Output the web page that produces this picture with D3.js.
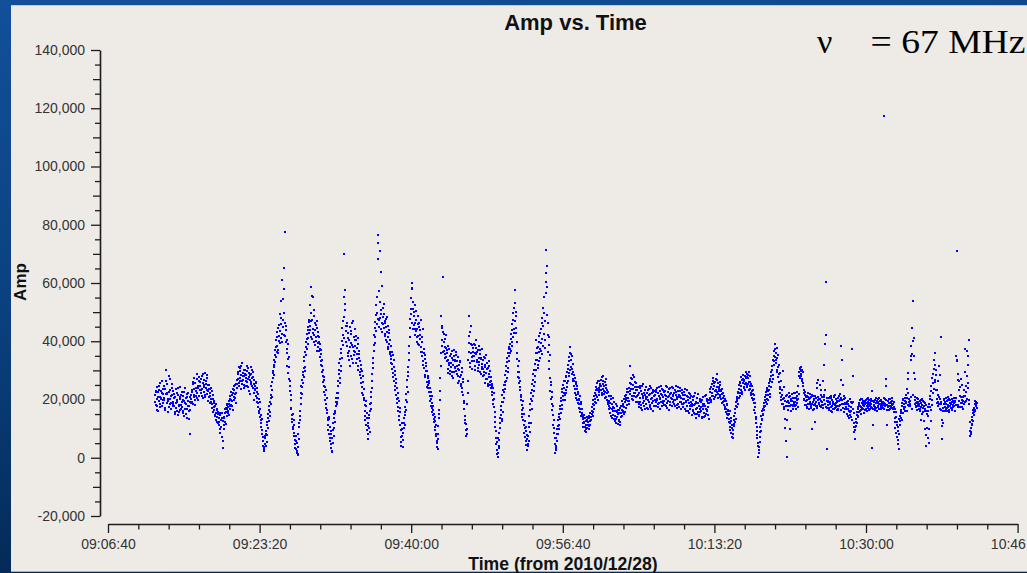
<!DOCTYPE html>
<html>
<head>
<meta charset="utf-8">
<script src="https://cdn.jsdelivr.net/npm/d3@7"></script>
<style>
  html, body { margin: 0; padding: 0; background: #0b3f80; }
  svg { display: block; }
</style>
</head>
<body>
<svg id="chart" width="1027" height="573"></svg>
<script>
// ---- data -------------------------------------------------------------
const sessionDate = "2010-12-28";
const firstSample = "09:11:50";   // time of the first amplitude sample
const streamStepSec = 4;          // spacing inside each stream
const streamBOffsetSec = 2;       // stream B sits halfway between stream A samples
const ampUnit = 1000;             // amplitude values are in thousands

// stream A amplitudes (x1000), one row per minute
const ampStreamA = [
  21.5, 18.2, 23.0, 20.1, 16.4, 22.7, 19.5, 24.8, 21.0, 17.3, 20.6, 26.2, 22.4, 18.9, 21.8,
  19.7, 23.5, 17.1, 30.2, 21.9, 25.4, 15.8, 20.3, 22.6, 18.4, 27.1, 21.2, 16.9, 24.0, 19.2,
  22.8, 17.6, 20.4, 14.9, 18.8, 23.6, 16.2, 19.9, 21.5, 15.7, 18.1, 24.3, 20.7, 16.8, 19.3,
  17.4, 21.2, 15.3, 19.6, 23.9, 16.7, 18.5, 13.8, 20.9, 17.9, 22.4, 15.9, 19.1, 8.2, 18.7,
  20.1, 23.4, 18.6, 25.2, 21.7, 27.3, 19.8, 24.1, 22.9, 28.6, 20.5, 23.8, 26.4, 21.3, 24.7,
  25.9, 22.2, 28.1, 23.7, 20.4, 26.8, 24.3, 29.1, 21.6, 25.4, 23.1, 27.5, 22.8, 19.6, 24.9,
  22.4, 18.7, 24.1, 20.3, 17.2, 21.6, 15.8, 19.4, 16.5, 14.2, 18.3, 13.1, 16.9, 12.4, 15.1,
  13.6, 11.2, 15.4, 9.7, 12.9, 7.1, 13.6, 3.2, 11.4, 14.0, 12.3, 16.8, 15.7, 18.1, 16.9,
  17.4, 15.2, 19.6, 16.8, 21.3, 18.1, 22.7, 19.4, 16.3, 23.5, 20.8, 24.6, 21.9, 18.7, 25.3,
  26.8, 24.1, 28.9, 31.2, 25.6, 27.4, 29.8, 23.7, 26.2, 32.4, 28.1, 25.1, 27.9, 30.3, 24.5,
  28.4, 25.9, 31.6, 27.1, 24.3, 29.2, 26.7, 21.8, 28.8, 26.0, 30.1, 23.9, 27.6, 19.8, 25.2,
  24.6, 21.3, 25.8, 19.2, 22.5, 17.4, 20.1, 15.3, 16.8, 12.9, 10.6, 13.4, 8.2, 5.9, 3.1,
  2.4, 4.8, 6.7, 9.3, 5.5, 11.2, 13.8, 10.1, 16.4, 19.2, 15.6, 21.7, 24.8, 20.9, 27.3,
  29.8, 33.6, 31.2, 36.9, 40.4, 34.7, 38.5, 43.2, 37.1, 41.8, 45.6, 39.3, 47.9, 53.8, 42.6,
  61.2, 44.8, 65.3, 49.7, 77.6, 41.9, 45.3, 36.1, 40.4, 33.8, 29.2, 34.7, 22.9, 26.4, 17.1,
  16.6, 13.2, 15.1, 9.8, 7.4, 11.3, 4.6, 2.9, 5.8, 1.6, 3.7, 0.9, 6.4, 10.5, 14.2,
  18.4, 22.1, 26.7, 24.3, 29.5, 27.8, 33.2, 36.4, 31.1, 39.8, 42.6, 37.3, 44.9, 41.2, 47.3,
  52.4, 43.7, 46.9, 58.6, 40.8, 55.3, 44.1, 48.5, 42.2, 38.6, 45.7, 41.5, 36.8, 43.3, 39.4,
  41.4, 36.8, 38.9, 33.2, 35.7, 29.4, 31.6, 26.1, 27.8, 22.5, 24.3, 19.8, 17.2, 20.6, 15.4,
  12.9, 9.6, 14.1, 6.8, 10.7, 3.4, 8.1, 1.9, 5.2, 11.8, 7.6, 14.9, 12.3, 17.6, 20.4,
  19.2, 24.8, 22.1, 28.6, 32.4, 27.3, 36.1, 31.5, 40.2, 44.7, 38.6, 48.3, 69.8, 52.9, 57.6,
  43.6, 38.2, 46.3, 34.9, 41.1, 36.7, 44.8, 31.6, 39.4, 42.5, 33.8, 37.9, 47.1, 35.2, 40.6,
  38.4, 32.7, 41.9, 35.6, 30.2, 39.1, 34.3, 36.8, 28.4, 31.9, 25.6, 29.7, 22.3, 26.1, 19.8,
  20.6, 16.2, 12.8, 17.9, 9.4, 13.5, 6.3, 10.8, 14.6, 8.9, 18.3, 22.6, 16.7, 26.4, 30.8,
  34.2, 38.7, 44.5, 41.3, 48.9, 52.6, 45.8, 76.6, 73.9, 57.2, 47.4, 71.1, 50.8, 63.8, 46.2,
  59.1, 48.3, 44.6, 52.7, 46.1, 41.8, 47.5, 43.2, 39.7, 45.4, 38.1, 42.9, 36.4, 40.6, 34.8,
  33.9, 30.4, 35.2, 27.6, 31.1, 24.8, 28.3, 21.5, 25.7, 18.9, 22.4, 16.1, 19.4, 12.8, 15.7,
  9.6, 4.1, 7.3, 11.8, 6.2, 13.5, 10.2, 17.4, 14.6, 21.9, 19.1, 26.8, 31.3, 28.2, 35.9,
  41.4, 47.6, 51.2, 57.8, 60.1, 44.3, 53.6, 48.7, 42.1, 46.2, 50.4, 43.5, 39.8, 45.9, 41.7,
  44.8, 38.6, 42.1, 36.4, 47.2, 34.9, 39.7, 33.1, 37.5, 30.8, 35.2, 28.4, 32.6, 26.1, 29.9,
  27.3, 23.8, 25.6, 21.2, 19.4, 22.7, 17.1, 18.9, 14.6, 16.3, 12.2, 13.9, 9.5, 11.1, 7.4,
  5.2, 2.9, 8.1, 13.6, 16.4, 22.8, 48.7, 31.5, 44.6, 38.2, 61.9, 42.4, 36.7, 40.9, 34.3,
  37.6, 33.1, 35.9, 30.4, 38.2, 32.7, 28.6, 34.8, 31.2, 36.5, 29.3, 33.7, 27.4, 35.1, 30.7,
  33.4, 29.8, 36.2, 31.5, 27.9, 34.6, 30.1, 26.3, 32.8, 28.5, 24.7, 30.9, 22.6, 27.2, 19.5,
  16.8, 11.9, 14.5, 7.4, 9.8, 18.6, 26.3, 48.6, 36.2, 43.1, 32.4, 39.1, 34.7, 30.6, 37.8,
  36.4, 33.2, 38.7, 31.4, 35.5, 40.3, 32.9, 37.1, 29.8, 34.4, 31.7, 36.9, 28.6, 33.8, 30.5,
  32.3, 27.9, 34.6, 29.5, 25.8, 31.1, 35.2, 27.0, 30.4, 24.6, 28.8, 33.3, 26.1, 29.7, 23.9,
  25.2, 21.4, 23.8, 18.6, 20.3, 15.7, 12.4, 9.1, 4.8, 1.2, 6.7, 0.3, 3.5, 8.6, 12.1,
  14.8, 17.9, 13.2, 21.6, 19.3, 25.1, 22.7, 28.4, 24.9, 31.6, 27.3, 34.2, 30.8, 37.5, 35.1,
  39.2, 35.8, 42.6, 38.4, 45.9, 41.3, 49.7, 44.2, 53.1, 57.6, 48.5, 42.8, 36.1, 31.4, 27.6,
  29.3, 25.7, 23.1, 19.8, 21.4, 16.5, 13.9, 17.2, 11.3, 8.4, 12.7, 5.6, 9.1, 2.8, 6.3,
  4.7, 10.4, 14.2, 8.9, 18.6, 22.3, 16.7, 25.4, 21.1, 28.7, 24.6, 32.3, 27.9, 35.8, 40.4,
  33.6, 38.1, 30.9, 36.4, 41.7, 34.2, 44.3, 39.5, 48.1, 35.7, 51.4, 42.6, 55.2, 37.8, 60.3,
  71.2, 58.6, 65.8, 46.3, 38.7, 33.1, 27.4, 22.8, 25.9, 18.3, 20.7, 14.6, 11.2, 8.4, 4.6,
  1.8, 6.9, 3.4, 9.7, 12.8, 8.2, 14.9, 11.3, 17.6, 15.2, 20.4, 18.1, 23.6, 21.3, 26.5,
  24.1, 19.8, 27.6, 22.4, 29.3, 25.7, 31.8, 27.9, 34.6, 30.2, 37.9, 33.5, 28.7, 35.1, 26.4,
  29.6, 24.8, 27.3, 22.1, 25.4, 20.6, 23.7, 18.9, 21.8, 17.2, 19.7, 15.8, 18.4, 14.3, 16.9,
  13.2, 10.6, 14.8, 11.9, 9.3, 12.7, 8.8, 14.1, 10.2, 12.4, 9.7, 13.6, 11.1, 15.2, 12.8,
  14.9, 17.3, 15.6, 19.8, 18.2, 22.4, 20.1, 24.3, 21.7, 25.8, 23.2, 19.9, 26.4, 22.6, 24.8,
  23.1, 26.7, 21.4, 25.2, 28.1, 22.9, 24.5, 20.6, 27.2, 23.8, 19.7, 22.3, 18.4, 21.1, 17.6,
  18.9, 15.3, 20.2, 16.7, 13.8, 17.4, 14.6, 19.1, 15.9, 12.7, 16.2, 13.4, 17.8, 11.6, 14.9,
  13.1, 16.5, 11.4, 15.2, 17.9, 14.3, 18.6, 16.1, 20.3, 17.4, 15.6, 19.8, 21.5, 18.2, 22.7,
  20.4, 24.1, 18.6, 22.8, 31.4, 25.3, 21.2, 26.9, 23.5, 19.8, 27.6, 24.2, 22.1, 25.7, 20.9,
  23.4, 19.2, 21.7, 17.3, 24.6, 20.5, 18.1, 22.9, 16.4, 21.3, 25.2, 19.6, 17.8, 23.1, 20.2,
  18.6, 22.4, 20.9, 16.8, 23.7, 19.3, 21.8, 17.5, 24.1, 20.4, 18.9, 22.6, 16.2, 21.2, 19.7,
  21.5, 17.9, 23.2, 19.8, 22.1, 18.3, 24.4, 20.6, 16.9, 21.9, 19.2, 23.6, 18.7, 20.8, 22.7,
  19.4, 22.8, 17.6, 21.3, 24.2, 18.8, 20.7, 23.5, 16.5, 21.9, 19.1, 22.4, 17.9, 20.3, 23.8,
  21.2, 18.4, 23.1, 19.7, 22.6, 17.2, 20.9, 24.3, 18.6, 21.7, 19.3, 22.8, 16.8, 20.5, 23.4,
  20.1, 17.3, 22.5, 18.8, 21.4, 16.2, 19.6, 23.1, 17.8, 20.7, 15.4, 18.9, 21.8, 16.7, 19.3,
  17.6, 14.8, 19.9, 16.3, 21.2, 15.1, 18.4, 13.6, 17.2, 20.5, 15.8, 18.9, 14.2, 16.9, 19.4,
  16.2, 19.1, 13.8, 17.7, 20.8, 15.4, 18.3, 14.5, 21.6, 16.8, 19.5, 15.9, 17.4, 13.2, 18.8,
  20.4, 23.6, 19.8, 25.2, 22.1, 27.4, 21.3, 24.8, 20.7, 26.1, 23.3, 28.6, 22.5, 25.7, 21.9,
  24.2, 21.6, 25.9, 22.8, 20.3, 23.7, 19.2, 22.4, 18.1, 21.1, 17.4, 19.6, 15.8, 18.3, 14.9,
  16.4, 13.2, 15.1, 11.8, 9.4, 12.6, 7.2, 10.3, 8.1, 11.5, 14.3, 12.2, 16.8, 19.1, 17.5,
  20.8, 18.4, 22.7, 24.9, 21.3, 26.1, 23.4, 27.8, 22.6, 25.5, 28.4, 24.1, 26.7, 23.2, 29.3,
  25.8, 28.9, 24.2, 27.3, 26.1, 29.6, 23.5, 25.9, 22.1, 24.7, 20.6, 23.2, 18.9, 21.4, 17.3,
  15.4, 12.1, 9.3, 6.8, 3.9, 0.4, 2.7, 5.5, 8.9, 11.6, 14.2, 12.8, 16.6, 15.1, 18.9,
  17.4, 20.8, 19.2, 22.6, 18.6, 24.1, 21.5, 25.8, 23.3, 27.2, 20.7, 29.4, 26.1, 31.6, 28.3,
  33.2, 36.8, 34.5, 38.9, 32.7, 37.8, 30.1, 35.4, 27.6, 31.8, 24.3, 22.1, 26.5, 19.8, 21.6,
  18.4, 29.7, 20.6, 16.9, 13.3, 21.2, 5.7, 19.1, 0.3, 17.6, 22.4, 18.8, 9.9, 20.3, 16.1,
  19.6, 21.8, 17.9, 20.5, 18.4, 22.3, 19.1, 16.8, 21.2, 18.7, 20.1, 24.6, 29.3, 27.4, 30.8,
  28.1, 31.2, 26.3, 29.6, 24.8, 22.1, 19.7, 21.6, 18.2, 20.9, 17.4, 19.8, 22.4, 18.6, 20.3,
  19.2, 17.6, 20.8, 18.3, 9.8, 21.1, 16.9, 19.7, 12.4, 18.5, 20.4, 25.6, 17.2, 26.8, 19.9,
  18.7, 24.9, 20.2, 17.4, 21.6, 19.1, 26.3, 18.2, 20.7, 31.7, 39.2, 60.3, 42.3, 19.4, 2.9,
  18.1, 20.6, 16.4, 19.2, 21.3, 17.5, 15.8, 19.9, 18.6, 20.8, 16.9, 18.2, 21.7, 17.3, 19.6,
  17.8, 20.4, 16.3, 19.5, 21.8, 18.1, 26.7, 38.3, 33.7, 24.9, 17.2, 20.1, 15.6, 18.9, 16.8,
  18.4, 15.1, 19.6, 16.7, 13.8, 17.9, 14.6, 19.2, 16.1, 12.9, 37.5, 28.0, 15.3, 10.6, 6.3,
  9.4, 13.2, 15.7, 12.1, 17.3, 14.5, 18.8, 16.2, 19.7, 17.4, 15.1, 20.3, 18.1, 16.6, 19.2,
  17.6, 19.4, 16.8, 18.9, 20.2, 17.1, 18.5, 19.8, 16.4, 18.1, 19.5, 17.3, 22.9, 3.5, 11.4,
  18.2, 16.9, 19.7, 17.5, 20.4, 18.8, 15.9, 19.1, 17.8, 20.6, 16.7, 18.4, 19.9, 17.2, 18.6,
  19.3, 17.1, 18.8, 117.3, 20.2, 26.9, 24.6, 11.4, 17.9, 19.6, 16.5, 18.7, 20.1, 17.6, 19.2,
  18.1, 20.4, 16.9, 19.2, 17.4, 13.6, 10.2, 15.8, 7.1, 12.4, 4.6, 9.3, 2.9, 14.2, 11.1,
  13.8, 16.5, 18.9, 15.4, 20.1, 17.3, 19.6, 16.2, 21.4, 18.7, 23.5, 29.2, 26.9, 17.9, 20.3,
  19.5, 33.7, 38.3, 44.5, 35.5, 53.8, 41.2, 29.0, 27.1, 20.8, 17.6, 19.2, 16.4, 18.5, 20.1,
  17.8, 19.4, 16.2, 18.7, 13.1, 20.3, 17.2, 15.6, 19.1, 9.7, 16.8, 18.2, 4.1, 14.9, 17.5,
  6.7, 18.6, 9.9, 21.3, 16.4, 24.8, 19.7, 27.5, 22.1, 30.6, 33.4, 25.9, 36.1, 28.4, 20.2,
  23.4, 19.1, 17.6, 31.5, 20.3, 16.9, 41.6, 18.4, 6.3, 12.0, 17.2, 19.8, 15.9, 18.6, 20.5,
  18.3, 16.1, 19.7, 17.4, 20.2, 15.6, 18.9, 21.4, 17.1, 19.3, 16.5, 18.2, 20.6, 17.8, 19.1,
  19.6, 34.9, 71.0, 33.7, 28.6, 18.2, 26.4, 24.3, 17.5, 20.8, 25.1, 18.9, 16.7, 19.4, 21.2,
  37.5, 21.3, 19.4, 22.6, 28.1, 34.9, 25.8, 40.6, 19.9, 7.4, 10.2, 8.9, 13.1, 11.6, 15.2,
  17.2, 14.6, 19.4, 16.1, 18.3, 17.0
];

// stream B amplitudes (x1000), one row per minute, 2 s after stream A
const ampStreamB = [
  19.1, 22.6, 17.8, 24.3, 20.7, 15.9, 23.1, 18.5, 25.6, 20.2, 22.9, 17.6, 19.8, 23.7, 20.4,
  24.6, 16.3, 21.8, 26.4, 18.9, 22.3, 19.6, 28.1, 17.4, 23.2, 20.1, 18.7, 25.3, 21.4, 17.9,
  18.3, 21.9, 15.6, 20.8, 17.2, 22.4, 19.1, 14.6, 23.8, 17.7, 20.3, 16.4, 21.6, 18.2, 22.7,
  19.8, 16.2, 22.7, 14.4, 18.9, 20.6, 15.1, 21.8, 16.6, 19.4, 13.2, 17.8, 20.9, 16.4, 21.5,
  22.5, 19.3, 26.1, 20.8, 23.6, 18.1, 25.5, 21.2, 26.9, 22.4, 24.8, 19.7, 27.8, 23.1, 25.9,
  23.4, 27.1, 21.3, 25.6, 28.7, 22.7, 24.9, 20.8, 26.3, 23.9, 28.4, 21.9, 25.1, 23.6, 20.9,
  21.1, 23.5, 19.2, 22.8, 18.6, 20.1, 17.3, 18.9, 14.8, 17.7, 15.2, 16.4, 14.1, 15.8, 11.9,
  12.4, 14.7, 8.6, 13.1, 10.4, 15.2, 5.8, 12.7, 9.9, 13.8, 15.4, 11.6, 17.2, 14.3, 18.4,
  16.2, 18.5, 14.7, 20.1, 17.6, 19.9, 21.4, 17.8, 22.2, 19.7, 23.1, 20.5, 24.9, 22.3, 23.8,
  25.4, 29.6, 27.2, 24.8, 30.7, 26.4, 28.3, 31.5, 25.2, 29.1, 26.7, 30.2, 23.8, 28.6, 27.3,
  26.3, 29.8, 24.6, 30.9, 27.8, 22.9, 28.4, 25.3, 31.2, 27.4, 24.7, 29.3, 22.4, 26.8, 23.6,
  23.2, 26.1, 20.4, 23.9, 18.7, 21.8, 16.2, 19.3, 14.1, 11.8, 14.7, 9.6, 7.1, 4.2, 2.6,
  3.6, 7.4, 4.1, 8.2, 12.3, 7.9, 14.9, 12.6, 17.8, 14.3, 20.4, 18.6, 23.1, 25.9, 29.2,
  31.7, 28.5, 35.2, 32.9, 38.1, 36.3, 41.6, 35.8, 44.7, 40.1, 43.4, 49.2, 41.1, 45.8, 39.6,
  54.6, 47.3, 42.2, 58.1, 46.4, 39.6, 43.8, 37.4, 31.6, 38.9, 27.1, 31.3, 24.6, 19.8, 21.7,
  12.3, 14.6, 10.7, 8.5, 12.9, 6.1, 3.4, 7.3, 2.2, 4.9, 1.4, 8.1, 11.8, 16.2, 13.1,
  20.6, 24.7, 21.9, 28.3, 25.6, 30.9, 34.7, 29.7, 38.1, 35.4, 40.9, 43.8, 39.1, 46.5, 42.8,
  45.2, 49.6, 41.3, 55.7, 47.2, 42.9, 50.8, 39.9, 46.4, 43.9, 40.2, 47.1, 44.6, 38.1, 41.8,
  39.6, 37.5, 34.6, 36.9, 31.8, 33.4, 28.2, 30.1, 24.8, 26.7, 21.4, 23.1, 18.4, 16.3, 13.7,
  11.4, 13.2, 8.3, 5.7, 9.2, 4.6, 2.3, 6.9, 9.4, 13.5, 10.1, 16.2, 15.4, 19.1, 18.3,
  22.4, 20.6, 26.3, 30.1, 25.7, 33.9, 29.8, 37.4, 34.1, 42.3, 46.8, 41.1, 55.3, 50.7, 45.2,
  39.8, 45.2, 36.1, 42.7, 33.4, 40.3, 37.9, 43.4, 35.1, 46.1, 38.7, 32.4, 41.6, 36.6, 44.1,
  36.2, 40.6, 33.9, 37.7, 41.2, 31.6, 35.7, 29.3, 33.1, 27.4, 30.6, 24.2, 27.9, 21.5, 23.7,
  18.1, 14.3, 19.6, 11.2, 15.4, 8.1, 11.9, 13.7, 10.3, 16.2, 20.7, 18.9, 24.1, 28.6, 32.5,
  36.8, 42.1, 39.4, 46.7, 43.6, 49.8, 55.1, 47.6, 68.2, 44.9, 53.4, 48.1, 44.2, 49.5, 43.1,
  51.4, 45.8, 49.2, 42.4, 46.9, 44.8, 40.5, 48.4, 41.4, 37.2, 43.7, 39.1, 35.5, 38.2, 32.6,
  36.3, 32.2, 29.1, 33.6, 26.4, 29.7, 23.3, 26.9, 20.1, 23.8, 17.5, 20.6, 14.4, 17.2, 11.1,
  7.2, 5.4, 9.8, 3.8, 8.4, 12.1, 15.8, 11.4, 19.7, 16.3, 24.2, 22.6, 29.4, 33.7, 38.2,
  44.7, 49.3, 54.8, 46.2, 58.4, 51.1, 45.7, 49.9, 44.2, 52.3, 47.4, 41.3, 44.1, 48.6, 38.9,
  46.3, 40.9, 43.7, 38.1, 41.6, 36.2, 44.1, 31.7, 36.1, 33.9, 27.6, 31.4, 29.8, 24.3, 28.1,
  25.1, 26.4, 22.6, 24.1, 20.3, 17.9, 21.1, 15.6, 17.8, 13.3, 15.1, 10.4, 12.6, 8.3, 5.9,
  3.8, 6.6, 10.9, 14.9, 19.7, 27.3, 35.8, 45.1, 40.3, 36.4, 43.2, 39.8, 38.1, 35.6, 42.1,
  34.6, 36.9, 29.1, 33.4, 31.8, 37.2, 29.9, 32.4, 35.6, 28.1, 34.2, 31.9, 37.1, 29.6, 33.2,
  31.2, 35.3, 28.7, 33.1, 30.6, 25.8, 31.9, 27.7, 33.3, 25.4, 29.4, 23.8, 26.1, 21.4, 18.7,
  14.2, 13.1, 9.6, 11.5, 8.2, 22.4, 33.6, 41.9, 39.3, 31.2, 45.1, 36.1, 33.3, 38.6, 35.1,
  34.8, 39.1, 35.9, 30.3, 37.8, 33.6, 36.2, 30.9, 38.4, 32.8, 35.7, 29.4, 34.1, 37.3, 31.2,
  30.6, 33.7, 28.4, 31.9, 34.1, 26.9, 29.1, 32.6, 25.4, 30.9, 27.6, 31.4, 24.9, 27.8, 26.2,
  22.7, 24.6, 19.9, 22.1, 17.3, 14.1, 10.6, 6.9, 2.6, 5.4, 1.8, 4.1, 6.2, 10.3, 13.8,
  16.4, 12.6, 19.1, 15.8, 23.3, 20.6, 26.1, 23.7, 29.8, 26.2, 32.9, 29.4, 35.9, 33.3, 38.1,
  37.3, 40.8, 36.7, 43.9, 39.8, 47.3, 42.9, 51.4, 46.8, 50.2, 44.6, 39.7, 33.8, 29.5, 33.2,
  27.4, 24.2, 26.3, 20.7, 18.2, 15.1, 19.4, 12.8, 14.9, 10.1, 7.2, 10.6, 4.3, 7.8, 3.9,
  7.3, 5.9, 12.1, 16.4, 11.8, 20.3, 19.4, 23.2, 26.6, 22.9, 30.3, 26.1, 33.7, 30.2, 37.6,
  35.9, 31.7, 39.8, 33.1, 37.5, 42.9, 36.6, 46.3, 40.7, 38.2, 45.1, 49.6, 40.3, 46.8, 56.4,
  63.4, 48.9, 42.1, 36.2, 41.4, 30.6, 35.2, 24.9, 20.2, 22.6, 16.4, 17.9, 13.1, 10.3, 6.7,
  3.9, 2.6, 8.1, 5.7, 10.9, 14.1, 9.8, 16.8, 13.3, 19.6, 16.9, 22.7, 19.8, 25.1, 22.4,
  21.6, 26.3, 23.4, 28.1, 24.2, 30.4, 26.3, 33.2, 29.1, 36.1, 31.3, 35.6, 30.4, 27.1, 32.3,
  26.2, 28.4, 23.6, 26.1, 21.5, 24.6, 19.8, 22.7, 20.3, 18.6, 21.1, 16.9, 19.3, 15.5, 14.8,
  11.8, 14.1, 12.3, 10.4, 13.7, 11.4, 9.9, 12.9, 13.6, 11.2, 14.4, 10.8, 12.6, 14.1, 13.9,
  16.2, 14.4, 18.4, 16.9, 21.2, 19.3, 23.1, 18.8, 23.7, 20.9, 26.3, 24.1, 21.4, 25.3, 23.3,
  24.7, 22.1, 27.6, 23.6, 26.4, 21.8, 25.9, 22.7, 24.9, 20.9, 23.4, 19.1, 22.6, 16.9, 19.5,
  17.1, 21.1, 14.4, 18.4, 15.9, 20.4, 13.3, 17.2, 14.3, 18.6, 11.9, 15.6, 13.9, 16.4, 12.5,
  15.4, 12.2, 17.1, 13.9, 16.3, 19.4, 15.7, 17.8, 14.9, 19.1, 21.2, 17.1, 20.6, 23.6, 19.4,
  22.6, 19.6, 25.6, 21.9, 27.4, 23.7, 20.1, 25.1, 28.3, 22.4, 21.1, 25.9, 23.3, 19.3, 24.4,
  21.1, 24.3, 18.6, 22.4, 19.3, 23.8, 17.1, 21.9, 24.8, 18.9, 20.4, 22.1, 16.7, 21.6, 24.3,
  20.7, 17.2, 23.1, 19.9, 21.6, 18.1, 24.7, 20.2, 16.6, 22.3, 19.6, 23.4, 21.1, 17.8, 22.9,
  19.1, 22.6, 20.3, 24.1, 17.4, 21.3, 18.9, 22.8, 20.1, 24.6, 17.6, 21.4, 19.5, 23.3, 18.2,
  21.7, 18.2, 24.8, 20.1, 17.1, 22.7, 19.6, 21.2, 23.9, 18.1, 22.2, 20.6, 24.4, 19.2, 21.4,
  22.3, 19.9, 17.7, 21.5, 24.6, 20.3, 18.2, 22.9, 20.8, 17.4, 23.9, 21.1, 19.1, 22.1, 18.4,
  21.6, 18.4, 20.2, 16.9, 23.7, 19.1, 17.7, 21.3, 19.8, 15.9, 22.4, 17.6, 20.6, 18.1, 21.1,
  18.6, 16.1, 20.7, 15.4, 18.1, 22.1, 16.9, 19.3, 15.1, 18.7, 21.8, 14.7, 17.9, 20.1, 15.8,
  17.3, 14.1, 19.8, 16.6, 18.6, 13.9, 21.1, 17.6, 15.1, 20.1, 16.4, 18.8, 14.8, 19.7, 20.6,
  22.7, 19.3, 24.3, 21.1, 26.4, 23.6, 20.2, 25.8, 22.9, 27.2, 21.6, 24.2, 26.8, 20.4, 23.6,
  22.9, 25.1, 20.8, 23.4, 21.9, 18.7, 22.3, 20.6, 19.4, 16.9, 20.2, 16.6, 18.1, 13.8, 16.1,
  14.8, 12.3, 16.1, 10.6, 13.7, 8.6, 11.1, 6.8, 9.6, 13.1, 10.9, 15.2, 13.4, 17.6, 20.3,
  19.6, 22.1, 20.4, 23.6, 25.8, 22.2, 24.7, 26.7, 21.9, 27.1, 24.4, 26.2, 28.1, 25.3, 27.4,
  27.6, 24.9, 28.4, 25.2, 23.4, 27.9, 24.8, 21.7, 25.4, 22.9, 19.8, 21.9, 20.1, 16.4, 18.8,
  14.1, 13.2, 10.6, 7.9, 5.1, 1.6, 3.8, 7.2, 10.4, 9.1, 13.4, 16.1, 14.7, 17.7, 16.3,
  19.9, 17.9, 21.6, 20.1, 23.4, 19.7, 22.9, 24.6, 21.9, 26.3, 24.2, 28.1, 30.2, 27.1, 33.4,
  35.1, 31.9, 37.4, 33.6, 36.1, 29.4, 34.2, 31.3, 28.9, 26.1, 29.1, 23.5, 20.7, 23.1, 18.6,
  20.1, 17.3, 24.3, 19.6, 10.1, 17.8, 21.6, 13.1, 19.4, 16.4, 20.8, 17.9, 21.1, 18.1, 19.6,
  18.1, 20.4, 16.9, 22.1, 19.3, 17.6, 20.6, 18.1, 22.6, 19.8, 17.3, 21.9, 27.9, 30.4, 28.6,
  29.9, 27.1, 30.2, 25.6, 23.4, 20.3, 18.1, 22.7, 19.4, 17.2, 21.3, 18.3, 20.7, 16.9, 21.9,
  20.4, 18.6, 17.1, 21.6, 19.1, 16.3, 20.2, 18.1, 21.2, 17.6, 19.3, 17.9, 24.1, 20.8, 18.3,
  20.1, 17.6, 19.4, 23.4, 18.1, 20.9, 17.1, 19.8, 21.4, 23.4, 18.6, 17.4, 20.6, 17.2, 19.4,
  19.3, 17.1, 20.9, 18.4, 16.2, 20.4, 17.8, 19.1, 16.7, 21.1, 18.6, 17.1, 20.2, 18.8, 16.4,
  19.2, 16.9, 21.1, 17.6, 19.9, 16.4, 20.6, 18.4, 19.7, 17.1, 21.3, 18.4, 16.9, 20.4, 17.4,
  16.9, 19.2, 14.4, 18.3, 16.1, 20.2, 15.7, 17.4, 14.1, 18.8, 16.7, 19.3, 12.1, 8.9, 10.7,
  12.4, 10.8, 14.6, 16.8, 13.9, 18.1, 15.6, 17.9, 20.1, 16.3, 18.7, 17.2, 19.6, 15.4, 18.3,
  18.6, 16.4, 19.8, 17.9, 16.1, 19.1, 20.4, 17.6, 18.9, 16.9, 20.1, 18.3, 17.1, 19.4, 16.8,
  19.3, 17.8, 16.4, 18.9, 17.1, 19.6, 17.4, 20.1, 16.6, 18.3, 19.4, 17.6, 16.9, 19.1, 17.7,
  18.1, 20.4, 16.9, 18.4, 17.6, 19.8, 18.2, 16.4, 19.4, 17.3, 20.2, 17.9, 16.7, 18.9, 17.2,
  19.4, 17.1, 18.6, 15.6, 12.3, 16.8, 8.6, 13.9, 11.4, 6.1, 10.6, 13.2, 8.1, 12.6, 15.4,
  15.9, 12.9, 17.6, 19.8, 16.9, 18.4, 20.6, 17.4, 19.3, 16.1, 20.4, 18.1, 22.3, 19.1, 17.6,
  18.4, 20.9, 34.9, 16.9, 40.2, 21.6, 35.1, 18.4, 19.7, 17.3, 18.9, 20.6, 17.7, 19.1, 16.8,
  18.6, 16.8, 19.9, 17.4, 15.1, 18.1, 19.6, 12.6, 17.9, 16.2, 18.9, 7.9, 15.9, 10.3, 16.1,
  14.3, 4.9, 17.4, 20.1, 12.6, 22.9, 18.1, 25.6, 28.9, 23.7, 31.9, 26.8, 23.1, 30.1, 18.9,
  21.6, 26.3, 18.3, 20.9, 28.4, 16.4, 19.3, 13.1, 10.9, 16.2, 18.4, 20.1, 17.3, 19.2, 16.9,
  19.6, 17.2, 18.1, 20.8, 16.4, 19.9, 17.7, 18.6, 20.1, 16.8, 19.4, 17.3, 18.9, 16.1, 20.4,
  18.2, 20.6, 33.1, 17.3, 26.8, 19.6, 23.4, 21.1, 18.8, 27.2, 19.9, 17.4, 20.7, 23.1, 18.3,
  29.4, 19.1, 24.6, 20.3, 36.7, 23.9, 31.8, 18.6, 9.3, 12.4, 8.1, 11.2, 14.1, 12.6, 16.4,
  15.6, 18.4, 16.3, 19.1, 17.6, 18.8
];

const xTickTimes = ["09:06:40", "09:23:20", "09:40:00", "09:56:40", "10:13:20", "10:30:00", "10:46:40"];
const xMinorStepSec = 200;
const yTicks = [-20000, 0, 20000, 40000, 60000, 80000, 100000, 120000, 140000];
const yMinorStep = 5000;

const chartTitle = "Amp vs. Time";
const xTitle = "Time (from 2010/12/28)";
const yTitle = "Amp";
const freqSymbol = "\u03BD";
const freqText = "= 67 MHz";

// ---- layout -----------------------------------------------------------
const W = 1027, H = 573;
const plotLeft = 100, plotTop = 50, plotBottom = 516;
const xAxisY = 524, xLeft = 108, xRight = 1017.6;
const sansFont = "'Liberation Sans', Arial, Helvetica, sans-serif";

const parseT = s => new Date(`${sessionDate}T${s}Z`);
const t0 = parseT(firstSample).getTime();
const toPoints = (values, offsetSec) => values.map((v, i) => ({
  time: new Date(t0 + (offsetSec + i * streamStepSec) * 1000),
  amp: v * ampUnit
}));
const points = toPoints(ampStreamA, 0).concat(toPoints(ampStreamB, streamBOffsetSec));

const svg = d3.select("#chart");

// slide background
const defs = svg.append("defs");
const bg = defs.append("linearGradient").attr("id", "slideBg")
  .attr("x1", 0).attr("y1", 0).attr("x2", 0.25).attr("y2", 1);
bg.append("stop").attr("offset", "0%").attr("stop-color", "#13509a");
bg.append("stop").attr("offset", "55%").attr("stop-color", "#0a3f7c");
bg.append("stop").attr("offset", "100%").attr("stop-color", "#032852");
svg.append("rect").attr("width", W).attr("height", H).attr("fill", "url(#slideBg)");

// plot window
svg.append("rect")
  .attr("x", 11).attr("y", 5).attr("width", W - 11).attr("height", 566.7)
  .attr("fill", "#eeebe7");
svg.append("line")
  .attr("x1", 11).attr("x2", W).attr("y1", 5.5).attr("y2", 5.5)
  .attr("stroke", "#c9c9cc").attr("stroke-width", 1);

// scales
const x = d3.scaleUtc()
  .domain([parseT(xTickTimes[0]), parseT(xTickTimes[xTickTimes.length - 1])])
  .range([xLeft, xRight]);
const y = d3.scaleLinear()
  .domain([yTicks[0], yTicks[yTicks.length - 1]])
  .range([plotBottom, plotTop]);

const axisColor = "#1c1c1c";
const labelColor = "#333";
const fmtAmp = v => d3.format(",")(v).replace("\u2212", "-");

function styleAxis(g) {
  g.select(".domain").attr("stroke", axisColor).attr("stroke-width", 1.6);
  g.selectAll(".tick line").attr("stroke", axisColor).attr("stroke-width", 1.3);
  g.selectAll(".tick text")
    .attr("fill", labelColor)
    .style("font-family", sansFont)
    .style("font-size", "14px");
}

// y axis: majors, then minor ticks every 5,000
const yMinor = d3.range(yTicks[0], yTicks[yTicks.length - 1] + 1, yMinorStep)
  .filter(v => !yTicks.includes(v));
svg.append("g")
  .attr("transform", `translate(${plotLeft},0)`)
  .call(d3.axisLeft(y).tickValues(yMinor).tickSize(5).tickFormat(""))
  .call(g => g.select(".domain").remove())
  .call(g => g.selectAll(".tick line")
    .attr("x2", d => (d % 10000 === 0 ? -7 : -5))
    .attr("stroke", axisColor).attr("stroke-width", 1.3));
svg.append("g")
  .attr("transform", `translate(${plotLeft},0)`)
  .call(d3.axisLeft(y).tickValues(yTicks).tickSize(9).tickPadding(6)
    .tickSizeOuter(0).tickFormat(fmtAmp))
  .call(styleAxis);

// x axis: majors every 1000 s, minors every 200 s
const xMajor = xTickTimes.map(parseT);
const xMinor = d3.range(xMajor[0].getTime(), xMajor[xMajor.length - 1].getTime() + 1, xMinorStepSec * 1000)
  .map(ms => new Date(ms))
  .filter(d => !xMajor.some(m => m.getTime() === d.getTime()));
svg.append("g")
  .attr("transform", `translate(0,${xAxisY})`)
  .call(d3.axisBottom(x).tickValues(xMinor).tickSize(5.5).tickFormat(""))
  .call(g => g.select(".domain").remove())
  .call(g => g.selectAll(".tick line").attr("stroke", axisColor).attr("stroke-width", 1.3));
svg.append("g")
  .attr("transform", `translate(0,${xAxisY})`)
  .call(d3.axisBottom(x).tickValues(xMajor).tickSize(9).tickPadding(6)
    .tickSizeOuter(0).tickFormat(d3.utcFormat("%H:%M:%S")))
  .call(styleAxis);

// amplitude samples: small solid blue pixels
svg.append("g")
  .attr("shape-rendering", "crispEdges")
  .selectAll("rect")
  .data(points)
  .join("rect")
  .attr("x", d => x(d.time) - 1)
  .attr("y", d => y(d.amp) - 1)
  .attr("width", 2)
  .attr("height", 2)
  .attr("fill", "#0000ff");

// titles
svg.append("text")
  .attr("x", 575.5).attr("y", 30)
  .attr("text-anchor", "middle")
  .style("font-family", sansFont).style("font-size", "22px").style("font-weight", "bold")
  .attr("fill", "#111")
  .text(chartTitle);

svg.append("text")
  .attr("x", 563).attr("y", 569.5)
  .attr("text-anchor", "middle")
  .style("font-family", sansFont).style("font-size", "17.6px").style("font-weight", "bold")
  .attr("fill", "#111")
  .text(xTitle);

svg.append("text")
  .attr("transform", "translate(25.5,282) rotate(-90)")
  .attr("text-anchor", "middle")
  .style("font-family", sansFont).style("font-size", "17px").style("font-weight", "bold")
  .attr("fill", "#111")
  .text(yTitle);

// observing frequency note
const note = svg.append("text")
  .attr("y", 53.3)
  .style("font-family", "'Liberation Serif', 'Times New Roman', Times, serif")
  .style("font-size", "34px")
  .attr("fill", "#000");
note.append("tspan").attr("x", 817).text(freqSymbol);
note.append("tspan").attr("x", 870.5)
  .attr("textLength", 155).attr("lengthAdjust", "spacingAndGlyphs")
  .text(freqText);
</script>
</body>
</html>
